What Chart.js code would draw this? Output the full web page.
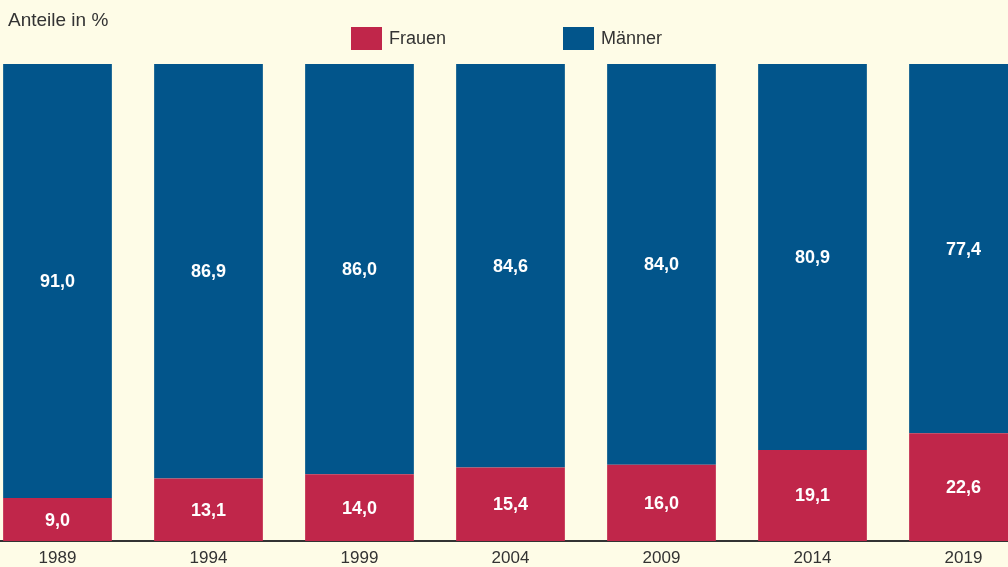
<!DOCTYPE html>
<html>
<head>
<meta charset="utf-8">
<script src="https://cdn.jsdelivr.net/npm/chart.js@4"></script>
<style>
    html, body { margin: 0; padding: 0; background: #fefce7; }
    #wrap { position: relative; width: 1008px; height: 567px; overflow: hidden; background: #fefce7; font-family: 'Liberation Sans', Arial, sans-serif; color: #333; }
    #chart_box { position: absolute; left: -18px; top: 0; width: 1057px; height: 567px; }
    .title { position: absolute; left: 8px; top: 9px; font-size: 19px; }
    .leg { position: absolute; top: 27px; font-size: 18px; line-height: 23px; }
    .leg span { display: inline-block; width: 31px; height: 23px; vertical-align: top; margin-right: 7px; }
</style>
</head>
<body>
<div id="wrap">
    <div id="chart_box"><canvas id="anteile_chart"></canvas></div>
    <div class="title">Anteile in %</div>
    <div class="leg" style="left:351px"><span style="background:#c0264a"></span>Frauen</div>
    <div class="leg" style="left:563px"><span style="background:#02558b"></span>Männer</div>
</div>
<script>
const years = ['1989', '1994', '1999', '2004', '2009', '2014', '2019'];
const frauen = [9.0, 13.1, 14.0, 15.4, 16.0, 19.1, 22.6];
const maenner = [91.0, 86.9, 86.0, 84.6, 84.0, 80.9, 77.4];

const anteile_chart = document.getElementById('anteile_chart');
const anteile_chart_sizer = () => {
    var parentRect = anteile_chart.parentNode.getBoundingClientRect();
    anteile_chart.width = parentRect.width;
    anteile_chart.height = parentRect.height;
};
anteile_chart_sizer();

// white values in the middle of each segment
const segmentLabels = {
    id: 'segmentLabels',
    afterDatasetsDraw(chart) {
        const ctx = chart.ctx;
        ctx.save();
        ctx.fillStyle = 'white';
        ctx.font = 'bold 18px "Liberation Sans", Arial, sans-serif';
        ctx.textAlign = 'center';
        ctx.textBaseline = 'middle';
        chart.data.datasets.forEach((ds, i) => {
            chart.getDatasetMeta(i).data.forEach((bar, j) => {
                const y = (bar.y + bar.base) / 2;
                ctx.fillText(ds.data[j].toFixed(1).replace('.', ','), bar.x, y + 1);
            });
        });
        ctx.restore();
    }
};

const data = {
    labels: years,
    datasets: [{
        label: 'Frauen',
        backgroundColor: '#c0264a',
        data: frauen
    }, {
        label: 'Männer',
        backgroundColor: '#02558b',
        data: maenner
    }]
};

const config = {
    type: 'bar',
    data: data,
    plugins: [segmentLabels],
    options: {
        responsive: false,
        animation: false,
        layout: {
            padding: { top: 64, left: 0, right: 0, bottom: 0 }
        },
        datasets: {
            bar: {
                barPercentage: 0.72,
                categoryPercentage: 1
            }
        },
        plugins: {
            title: { display: false },
            legend: { display: false },
            tooltip: { enabled: false }
        },
        scales: {
            x: {
                stacked: true,
                afterFit: (axis) => { axis.height = 26; },
                ticks: {
                    color: '#333',
                    padding: 7,
                    font: { family: 'Liberation Sans', size: 17 }
                },
                grid: { display: false, drawTicks: false },
                border: { display: true, color: '#333', width: 2 }
            },
            y: {
                stacked: true,
                display: false,
                min: 0,
                max: 100
            }
        }
    }
};

const myChart = new Chart(anteile_chart, config);
</script>
</body>
</html>
